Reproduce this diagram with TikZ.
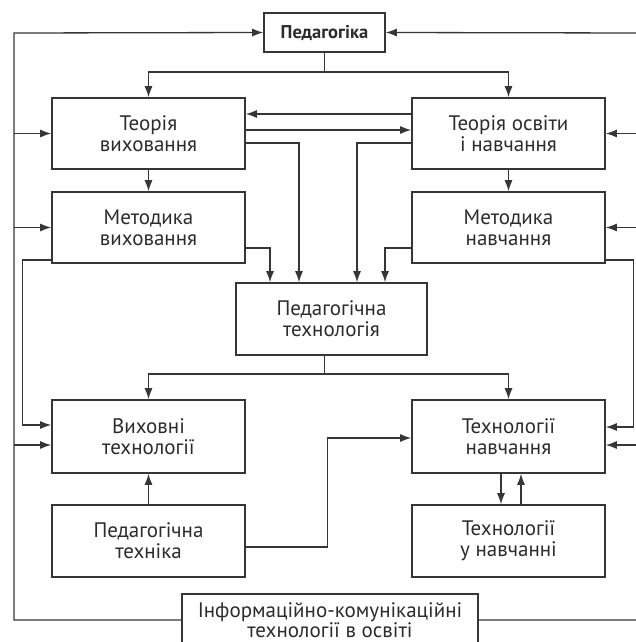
\documentclass[tikz,border=0pt]{standalone}
\usepackage{fontspec}
\setmainfont{PT Sans}
\usetikzlibrary{arrows.meta}

\definecolor{linecol}{HTML}{363636}
\definecolor{txtcol}{HTML}{2C2C2C}

\tikzset{
  box/.style={draw=linecol, line width=1.6pt, fill=white,
    minimum width=193pt, minimum height=71pt, inner sep=0pt,
    align=center, text=txtcol, font=\fontsize{21}{21}\selectfont},
  link/.style={draw=linecol, line width=1.3pt},
  arr/.style={link, -{Latex[length=11pt,width=8pt]}},
}

\begin{document}
\begin{tikzpicture}[x=1pt, y=-1pt]
  \useasboundingbox[fill=white] (0,0) rectangle (636,642);

  % boxes
  \node[box, minimum width=121pt, minimum height=39pt, font=\fontsize{18.5}{19}\selectfont\bfseries] (ped) at (324.5,32.5) {Педагогіка};
  \node[box] (tv)  at (148.5,133.5) {Теорія\\виховання};
  \node[box] (to)  at (508.5,133.5) {Теорія освіти\\і навчання};
  \node[box] (mv)  at (148.5,227.5) {Методика\\виховання};
  \node[box] (mn)  at (508.5,227.5) {Методика\\навчання};
  \node[box, minimum width=191pt, minimum height=72pt] (pt) at (331.5,319) {Педагогічна\\технологія};
  \node[box, minimum height=73pt] (vt)  at (148.5,436.5) {Виховні\\технології};
  \node[box, minimum height=73pt] (tn)  at (508.5,436.5) {Технології\\навчання};
  \node[box, minimum height=72pt] (ptk) at (148.5,541) {Педагогічна\\техніка};
  \node[box, minimum height=72pt] (tun) at (508.5,541) {Технології\\у навчанні};
  \node[box, minimum width=296pt, minimum height=52pt, font=\fontsize{21}{17}\selectfont] (ict) at (330,620) {Інформаційно-комунікаційні\\технології в освіті};

  % outer feedback loops
  \coordinate (lt) at (14,33);
  \coordinate (rt) at (641,33);
  \draw[arr] (ict.west) -| (lt) -- (ped.west);
  \draw[arr] (tv.west -| lt) -- (tv.west);
  \draw[arr] (mv.west -| lt) -- (mv.west);
  \draw[arr] ([yshift=-8.5pt]vt.west -| lt) -- ([yshift=-8.5pt]vt.west);
  \draw[arr] (ict.east) -| (rt) -- (ped.east);
  \draw[arr] (to.east -| rt) -- (to.east);
  \draw[arr] (mn.east -| rt) -- (mn.east);
  \draw[arr] ([yshift=-8.5pt]tn.east -| rt) -- ([yshift=-8.5pt]tn.east);

  % pedagogy to the two theories
  \coordinate (pbus) at (324.5,72);
  \draw[link] (ped.south) -- (pbus);
  \draw[arr] (pbus) -| (tv.north);
  \draw[arr] (pbus) -| (to.north);

  % between the theories
  \draw[arr] ([yshift=19.5pt]to.west) -- ([yshift=19.5pt]tv.east);
  \draw[arr] ([yshift=3.5pt]tv.east) -- ([yshift=3.5pt]to.west);

  % theories and methods into pedagogical technology
  \draw[arr] ([yshift=-9.5pt]tv.east) -| ([xshift=-32.5pt]pt.north);
  \draw[arr] ([yshift=-9.5pt]to.west) -| ([xshift=25.5pt]pt.north);
  \draw[arr] ([yshift=-20.5pt]mv.east) -| ([xshift=-61.5pt]pt.north);
  \draw[arr] ([yshift=-20.5pt]mn.west) -| ([xshift=53.5pt]pt.north);

  % theories to methods
  \draw[arr] (tv.south) -- (mv.north);
  \draw[arr] (to.south) -- (mn.north);

  % methods to technologies
  \draw[arr] ([yshift=-32.5pt]mv.west) -- ++(-29,0) |- ([yshift=11.5pt]vt.west);
  \draw[arr] ([yshift=-32.5pt]mn.east) -- ++(28,0) |- ([yshift=9.5pt]tn.east);

  % pedagogical technology to the two technologies
  \coordinate (tbus) at (324.5,374);
  \draw[link] ([xshift=-7pt]pt.south) -- (tbus);
  \draw[arr] (tbus) -| (vt.north);
  \draw[arr] (tbus) -| (tn.north);

  % pedagogical technique
  \draw[arr] (ptk.north) -- (vt.south);
  \draw[arr] ([yshift=-6pt]ptk.east) -- ++(82,0) |- ([yshift=-1.5pt]tn.west);

  % teaching technologies and technologies in teaching
  \draw[arr] ([xshift=-7.5pt]tn.south) -- ([xshift=-7.5pt]tun.north);
  \draw[arr] ([xshift=12.5pt]tun.north) -- ([xshift=12.5pt]tn.south);
\end{tikzpicture}
\end{document}
